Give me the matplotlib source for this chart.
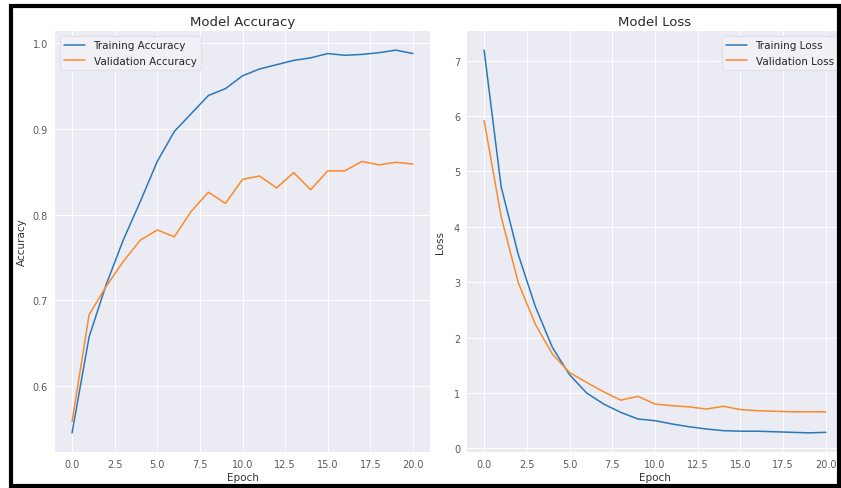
import numpy as np
import matplotlib
matplotlib.use('Agg')
import matplotlib.pyplot as plt
import matplotlib.patches as mpatches

# values
epochs = list(range(21))

train_acc = [0.545, 0.657, 0.718, 0.770, 0.815, 0.862, 0.897, 0.918, 0.939, 0.947, 0.962,
             0.970, 0.975, 0.980, 0.983, 0.988, 0.986, 0.987, 0.989, 0.992, 0.988]
val_acc = [0.558, 0.683, 0.716, 0.745, 0.770, 0.782, 0.774, 0.804, 0.826, 0.813, 0.841,
           0.845, 0.831, 0.849, 0.829, 0.851, 0.851, 0.862, 0.858, 0.861, 0.859]

train_loss = [7.19, 4.72, 3.50, 2.56, 1.82, 1.33, 1.00, 0.80, 0.65, 0.53, 0.50,
              0.44, 0.39, 0.35, 0.32, 0.31, 0.31, 0.30, 0.29, 0.28, 0.29]
val_loss = [5.92, 4.18, 2.99, 2.24, 1.70, 1.37, 1.19, 1.02, 0.87, 0.94, 0.80,
            0.77, 0.75, 0.71, 0.76, 0.70, 0.68, 0.67, 0.66, 0.66, 0.66]

plt.style.use('seaborn-v0_8-darkgrid')
plt.rcParams['font.family'] = ['DejaVu Sans']

fig = plt.figure(figsize=(8.41, 4.89), dpi=100)
fig.patch.set_facecolor('white')

W, H = 841, 489
ax1 = fig.add_axes([55 / W, (H - 453) / H, 375 / W, 421 / H])
ax2 = fig.add_axes([467 / W, (H - 453) / H, 376 / W, 421 / H])

lw = 1.1
tick_col = '#5a5a5a'

# accuracy panel
ax1.plot(epochs, train_acc, color='#2a78b8', lw=lw, label='Training Accuracy')
ax1.plot(epochs, val_acc, color='#fb8a2a', lw=lw, label='Validation Accuracy')
ax1.set_title('Model Accuracy', fontsize=9.5, pad=4, color='#2a2a2a')
ax1.set_xlabel('Epoch', fontsize=7.5, labelpad=2, color='#333333')
ax1.set_ylabel('Accuracy', fontsize=7.5, labelpad=4, color='#333333')
ax1.set_yticks([0.6, 0.7, 0.8, 0.9, 1.0])
ax1.legend(loc='upper left', fontsize=7.5, frameon=True, facecolor='#F0F0F6',
           edgecolor='#E2E2EA', framealpha=1.0, handlelength=2.0)

# loss panel
ax2.plot(epochs, train_loss, color='#2a78b8', lw=lw, label='Training Loss')
ax2.plot(epochs, val_loss, color='#fb8a2a', lw=lw, label='Validation Loss')
ax2.set_title('Model Loss', fontsize=9.5, pad=4, color='#2a2a2a')
ax2.set_xlabel('Epoch', fontsize=7.5, labelpad=2, color='#333333')
ax2.set_ylabel('Loss', fontsize=7.5, labelpad=6, color='#333333')
ax2.legend(loc='upper right', fontsize=7.5, frameon=True, facecolor='#F0F0F6',
           edgecolor='#E2E2EA', framealpha=1.0, handlelength=2.0)

for ax in (ax1, ax2):
    ax.set_facecolor('#EAEBF3')
    ax.set_xticks([0, 2.5, 5, 7.5, 10, 12.5, 15, 17.5, 20])
    ax.tick_params(labelsize=7, colors=tick_col, length=0, pad=5)
    ax.grid(True, color='white', lw=0.8)
    for s in ax.spines.values():
        s.set_visible(False)

# black frame around the whole screenshot
frame = mpatches.Rectangle((10.5 / W, 2 / H), (839 - 10.5) / W, (487 - 6.5) / H,
                           transform=fig.transFigure, fill=False,
                           edgecolor='black', lw=3.0, zorder=100)
fig.patches.append(frame)

plt.savefig('out.png', dpi=100)
plt.close()
